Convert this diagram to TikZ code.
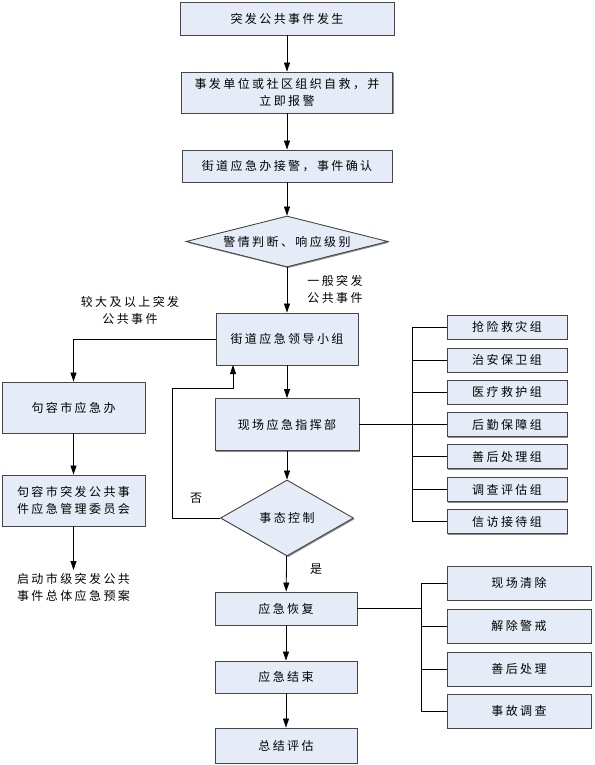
\documentclass[tikz,border=0pt]{standalone}
\usepackage{fontspec}
\newfontfamily\cjk[LetterSpace=20]{Noto Sans CJK SC}
\usetikzlibrary{shapes.geometric,arrows.meta,shadows}
\definecolor{boxfill}{RGB}{230,236,247}
\definecolor{boxline}{RGB}{70,70,70}
\begin{document}
\begin{tikzpicture}[x=1pt,y=-1pt,
  every node/.style={font=\cjk\fontsize{12}{17}\selectfont, inner sep=0pt},
  box/.style={rectangle, draw=boxline, line width=0.9pt, fill=boxfill, align=center,
    drop shadow={shadow xshift=1.2pt, shadow yshift=-1.2pt, fill=black!45, opacity=1}},
  dia/.style={diamond, draw=boxline, line width=0.9pt, fill=boxfill, inner sep=0pt,
    drop shadow={shadow xshift=1.2pt, shadow yshift=-1.2pt, fill=black!45, opacity=1}},
  lbl/.style={align=center},
  arr/.style={line width=0.8pt, -{Triangle[length=9pt,width=6pt]}},
  ln/.style={line width=0.8pt}]
\useasboundingbox (0,0) rectangle (594,765);
% main column
\node[box, minimum width=214, minimum height=33] (b1) at (287,18.5) {突发公共事件发生};
\node[box, minimum width=211, minimum height=41] (b2) at (287,92.5) {事发单位或社区组织自救，并\\立即报警};
\node[box, minimum width=210, minimum height=32] (b3) at (287,166) {街道应急办接警，事件确认};
\node[dia, minimum width=202, minimum height=51] (d1) at (287,241.5) {};
\node[lbl] (d1t) at (d1.center) {警情判断、响应级别};
\node[box, minimum width=142, minimum height=52] (b4) at (287,339) {街道应急领导小组};
\node[box, minimum width=144, minimum height=52] (b5) at (287,424.5) {现场应急指挥部};
\node[dia, minimum width=133, minimum height=76] (d2) at (287,518) {};
\node[lbl] (d2t) at (d2.center) {事态控制};
\node[box, minimum width=142, minimum height=33] (r1) at (286,608.5) {应急恢复};
\node[box, minimum width=142, minimum height=32] (r2) at (286,677) {应急结束};
\node[box, minimum width=142, minimum height=35] (r3) at (286,745.5) {总结评估};
% left column
\node[box, minimum width=143, minimum height=51] (l1) at (73.5,407.5) {句容市应急办};
\node[box, minimum width=143, minimum height=51] (l2) at (73.5,500.5) {句容市突发公共事\\件应急管理委员会};
\coordinate (l3top) at (73.5,570);
\node[lbl, anchor=north] (l3) at (73.5,573) {启动市级突发公共\\事件总体应急预案};
% right group 1
\node[box, minimum width=120, minimum height=24] (g1) at (507,327) {抢险救灾组};
\node[box, minimum width=120, minimum height=24] (g2) at (507,360) {治安保卫组};
\node[box, minimum width=120, minimum height=24] (g3) at (507,392) {医疗救护组};
\node[box, minimum width=120, minimum height=24] (g4) at (507,424.5) {后勤保障组};
\node[box, minimum width=120, minimum height=24] (g5) at (507,456.5) {善后处理组};
\node[box, minimum width=120, minimum height=24] (g6) at (507,489.5) {调查评估组};
\node[box, minimum width=120, minimum height=24] (g7) at (507,521.5) {信访接待组};
% right group 2
\node[box, minimum width=144, minimum height=34] (h1) at (519,583) {现场清除};
\node[box, minimum width=144, minimum height=34] (h2) at (519,626) {解除警戒};
\node[box, minimum width=144, minimum height=34] (h3) at (519,669) {善后处理};
\node[box, minimum width=144, minimum height=34] (h4) at (519,711) {事故调查};
% labels
\node[lbl] (t1) at (335,289) {一般突发\\公共事件};
\node[lbl] (t2) at (130,310) {较大及以上突发\\公共事件};
\node[lbl] (t3) at (196,498) {否};
\node[lbl] (t4) at (316,569) {是};
% arrows main
\draw[arr] (b1) -- (b2);
\draw[arr] (b2) -- (b3);
\draw[arr] (b3) -- (d1);
\draw[arr] (d1) -- (b4);
\draw[arr] (b4) -- (b5);
\draw[arr] (b5) -- (d2);
\draw[arr] (d2) -- (r1);
\draw[arr] (r1) -- (r2);
\draw[arr] (r2) -- (r3);
% left branch
\draw[arr] (b4.west) -| (l1.north);
\draw[arr] (l1) -- (l2);
\draw[arr] (l2.south) -- (l3top);
% loop back
\coordinate (lpa) at (172,518);
\coordinate (lpb) at (172,388);
\coordinate (lpc) at (233,388);
\coordinate (lpd) at (233,365);
\draw[arr] (d2.west) -- (lpa) -- (lpb) -- (lpc) -- (lpd);
% bus 1
\draw[ln] (b5.east) -- (b5.east -| g4.west);
\draw[ln] (412,327) -- (412,521.5);
\foreach \g in {g1,g2,g3,g5,g6,g7} \draw[ln] (412,0 |- \g.west) -- (\g.west);
% bus 2
\draw[ln] (r1.east) -- (421,608.5);
\draw[ln] (421,583) -- (421,711);
\foreach \h in {h1,h2,h3,h4} \draw[ln] (421,0 |- \h.west) -- (\h.west);
\end{tikzpicture}
\end{document}
